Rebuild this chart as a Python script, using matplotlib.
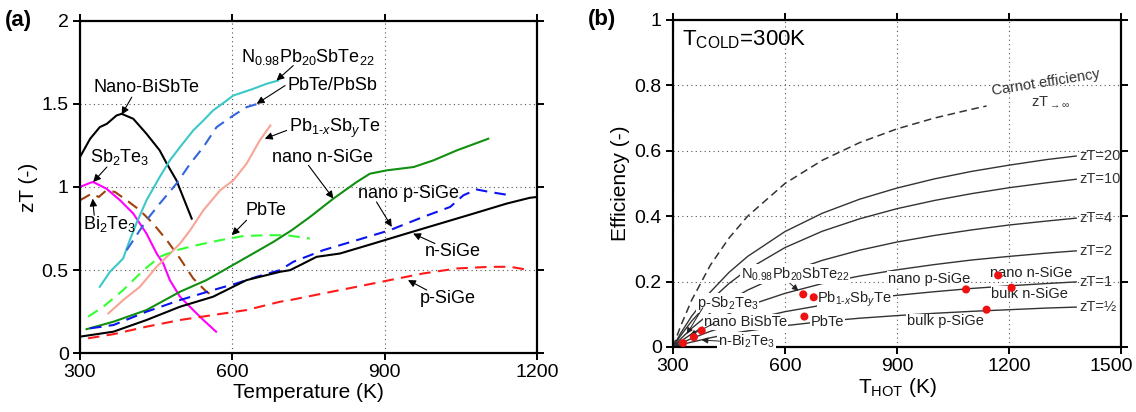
import matplotlib
matplotlib.use("Agg")
import matplotlib.pyplot as plt
from matplotlib.transforms import ScaledTranslation

plt.rcParams['font.family'] = ['Liberation Sans', 'DejaVu Sans']
plt.rcParams['mathtext.fontset'] = 'custom'
plt.rcParams['mathtext.rm'] = 'Liberation Sans'
plt.rcParams['mathtext.it'] = 'Liberation Sans:italic'

# ---- panel (a): zT vs temperature ----
bisbte_T = [300, 320, 339, 353, 372, 382, 405, 431, 457, 471, 490, 503, 520]
bisbte_z = [1.18, 1.29, 1.36, 1.38, 1.43, 1.44, 1.41, 1.32, 1.22, 1.14, 1.04, 0.94, 0.81]

sb2te3_T = [300, 320, 326, 352, 379, 405, 431, 451, 464, 477, 497, 523, 543, 568]
sb2te3_z = [1.0, 1.025, 1.03, 0.99, 0.92, 0.84, 0.72, 0.60, 0.54, 0.44, 0.34, 0.26, 0.20, 0.13]

bi2te3_T = [300, 323, 337, 352, 369, 392, 418, 444, 471, 497, 523, 549, 565]
bi2te3_z = [0.92, 0.96, 0.94, 0.98, 0.97, 0.92, 0.86, 0.78, 0.68, 0.57, 0.45, 0.37, 0.34]

last_T = [339, 359, 385, 398, 411, 431, 457, 477, 497, 523, 543, 562, 589, 602, 641, 667, 690]
last_z = [0.40, 0.49, 0.57, 0.68, 0.78, 0.92, 1.06, 1.16, 1.24, 1.34, 1.40, 1.46, 1.52, 1.55, 1.59, 1.62, 1.64]

pbsb_T = [392, 405, 431, 457, 490, 517, 543, 569, 602, 628, 650]
pbsb_z = [0.62, 0.68, 0.80, 0.90, 1.02, 1.14, 1.24, 1.36, 1.43, 1.48, 1.50]

pbsbte_T = [356, 385, 418, 451, 471, 497, 517, 543, 576, 602, 628, 654, 675]
pbsbte_z = [0.24, 0.32, 0.40, 0.52, 0.58, 0.66, 0.74, 0.86, 0.98, 1.04, 1.14, 1.28, 1.37]

pbte_T = [316, 346, 385, 425, 457, 490, 530, 576, 622, 667, 707, 753]
pbte_z = [0.22, 0.28, 0.38, 0.50, 0.58, 0.62, 0.65, 0.68, 0.705, 0.71, 0.71, 0.69]

nn_T = [313, 366, 431, 497, 549, 595, 641, 681, 717, 753, 799, 845, 871, 904, 957, 996, 1042, 1104]
nn_z = [0.145, 0.19, 0.26, 0.37, 0.44, 0.52, 0.60, 0.67, 0.74, 0.82, 0.93, 1.03, 1.08, 1.10, 1.12, 1.16, 1.22, 1.29]

np_T = [320, 366, 431, 497, 562, 608, 648, 694, 720, 779, 845, 910, 976, 1029, 1055, 1081, 1107, 1147]
np_z = [0.15, 0.17, 0.25, 0.32, 0.38, 0.42, 0.46, 0.50, 0.55, 0.62, 0.68, 0.74, 0.82, 0.88, 0.95, 0.985, 0.97, 0.95]

n_T = [300, 366, 431, 497, 562, 628, 694, 714, 766, 812, 878, 943, 1009, 1075, 1140, 1186, 1200]
n_z = [0.10, 0.13, 0.20, 0.28, 0.34, 0.44, 0.49, 0.50, 0.58, 0.60, 0.66, 0.72, 0.78, 0.84, 0.90, 0.935, 0.94]

p_T = [316, 366, 431, 497, 562, 628, 694, 714, 779, 845, 910, 976, 1042, 1107, 1147, 1186]
p_z = [0.09, 0.115, 0.16, 0.20, 0.23, 0.26, 0.31, 0.32, 0.36, 0.40, 0.44, 0.48, 0.51, 0.52, 0.52, 0.50]

# ---- panel (b): efficiency vs T_hot ----
th = [300, 320, 350, 400, 450, 500, 600, 700, 800, 900, 1000, 1100, 1200, 1300, 1380]
eff_zt20 = [0, 0.041, 0.094, 0.168, 0.228, 0.277, 0.353, 0.409, 0.452, 0.486, 0.514, 0.537, 0.556, 0.573, 0.584]
eff_zt10 = [0, 0.034, 0.079, 0.142, 0.194, 0.237, 0.304, 0.354, 0.392, 0.423, 0.448, 0.469, 0.487, 0.502, 0.513]
eff_zt4 = [0, 0.024, 0.057, 0.104, 0.142, 0.174, 0.226, 0.265, 0.296, 0.321, 0.341, 0.358, 0.373, 0.385, 0.394]
eff_zt2 = [0, 0.017, 0.040, 0.074, 0.102, 0.126, 0.164, 0.194, 0.217, 0.236, 0.252, 0.266, 0.277, 0.287, 0.294]
eff_zt1 = [0, 0.011, 0.026, 0.048, 0.066, 0.082, 0.108, 0.128, 0.145, 0.158, 0.169, 0.179, 0.187, 0.194, 0.199]
eff_zth = [0, 0.0065, 0.015, 0.028, 0.040, 0.049, 0.065, 0.078, 0.088, 0.096, 0.103, 0.109, 0.114, 0.119, 0.122]
zt_names = ["zT=20", "zT=10", "zT=4", "zT=2", "zT=1", "zT=½"]

carnot_T = [300, 320, 350, 400, 450, 500, 600, 700, 800, 900, 1000, 1100, 1140]
carnot_e = [0, 0.0625, 0.143, 0.25, 0.333, 0.4, 0.5, 0.571, 0.625, 0.667, 0.7, 0.727, 0.737]

dot_T = [327, 356, 377, 649, 677, 652, 1171, 1085, 1207, 1140]
dot_e = [0.012, 0.03, 0.05, 0.161, 0.152, 0.093, 0.219, 0.176, 0.181, 0.114]

fig = plt.figure(figsize=(11.36, 4.12), dpi=100)
ax1 = fig.add_axes([0.0704, 0.1425, 0.4023, 0.8073])
ax2 = fig.add_axes([0.5924, 0.1578, 0.3944, 0.7937])

LW = 1.5
DASH = (0, (5.5, 3.5))
ax1.plot(bisbte_T, bisbte_z, color="k", lw=LW)
ax1.plot(sb2te3_T, sb2te3_z, color="#ff00ff", lw=LW)
ax1.plot(bi2te3_T, bi2te3_z, color="#a0400a", lw=LW, ls=DASH)
ax1.plot(last_T, last_z, color="#3cc8c8", lw=LW)
ax1.plot(pbsb_T, pbsb_z, color="#3366dd", lw=LW, ls=DASH)
ax1.plot(pbsbte_T, pbsbte_z, color="#f7a595", lw=LW)
ax1.plot(pbte_T, pbte_z, color="#33ff33", lw=LW, ls=DASH)
ax1.plot(nn_T, nn_z, color="#118f11", lw=LW)
ax1.plot(np_T, np_z, color="#0a14f0", lw=LW, ls=DASH)
ax1.plot(n_T, n_z, color="k", lw=LW)
ax1.plot(p_T, p_z, color="#ff1a1a", lw=LW, ls=DASH)

arr = dict(arrowstyle="-|>", color="k", lw=0.8, mutation_scale=11, shrinkA=0, shrinkB=0)
labels_a = [
    ("Nano-BiSbTe", (431, 1.60), (402, 1.54), (382, 1.435)),
    (r"Sb$_2$Te$_3$", (379, 1.18), (353, 1.12), (326, 1.03)),
    (r"Bi$_2$Te$_3$", (359, 0.78), (328, 0.83), (325, 0.93)),
    (r"N$_{0.98}$Pb$_{20}$SbTe$_{22}$", (749, 1.78), (720, 1.73), (687, 1.64)),
    ("PbTe/PbSb", (798, 1.61), (704, 1.61), (648, 1.50)),
    (r"Pb$_{1\text{-}x}$Sb$_y$Te", (802, 1.35), (707, 1.34), (664, 1.29)),
    ("nano n-SiGe", (778, 1.18), (750, 1.13), (799, 0.93)),
    ("PbTe", (666, 0.86), (628, 0.80), (599, 0.71)),
    ("nano p-SiGe", (946, 0.96), (884, 0.91), (914, 0.76)),
    ("n-SiGe", (1034, 0.61), (999, 0.66), (956, 0.72)),
    ("p-SiGe", (1024, 0.33), (983, 0.38), (946, 0.44)),
]
for txt, pos, a0, a1 in labels_a:
    ax1.text(pos[0], pos[1], txt, ha="center", va="center", fontsize=13)
    ax1.annotate("", xy=a1, xytext=a0, arrowprops=arr)

ax1.set_xlim(300, 1200)
ax1.set_ylim(0, 2)
ax1.set_xticks([300, 600, 900, 1200])
ax1.set_yticks([0, 0.5, 1, 1.5, 2])
ax1.set_yticklabels(["0", "0.5", "1", "1.5", "2"])
ax1.grid(True, ls=(0, (1, 3)), color="#555555", lw=0.8)
ax1.set_xlabel("Temperature (K)", fontsize=15, labelpad=1)
ax1.set_ylabel("zT (-)", fontsize=15, labelpad=3)
ax1.text(-0.165, 1.0, "(a)", transform=ax1.transAxes, fontsize=16, fontweight="bold", va="center")

# ---- panel (b) ----
GREY = "#333333"
ax2.plot(carnot_T, carnot_e, color=GREY, lw=1.1, ls=(0, (5, 3)))
for vals, name in zip([eff_zt20, eff_zt10, eff_zt4, eff_zt2, eff_zt1, eff_zth], zt_names):
    ax2.plot(th, vals, color=GREY, lw=1.0, zorder=2)
    ax2.text(th[-1] + 8, vals[-1], name, fontsize=10.5, va="center", ha="left", color=GREY)

ax2.text(1300, 0.808, "Carnot efficiency", fontsize=10.5, rotation=9, ha="center", va="center", color=GREY)
ax2.text(1310, 0.75, r"zT$_{\rightarrow\infty}$", fontsize=10.5, ha="center", va="center", color=GREY)
ax2.text(325, 0.94, r"T$_{\rm COLD}$=300K", fontsize=16, ha="left", va="center")

box = dict(fc="white", ec="none", pad=0.6)
labels_b = [
    (r"N$_{0.98}$Pb$_{20}$SbTe$_{22}$", (627, 0.223)),
    (r"p-Sb$_2$Te$_3$", (446, 0.135)),
    (r"Pb$_{1\text{-}x}$Sb$_y$Te", (787, 0.146)),
    ("nano BiSbTe", (494, 0.077)),
    ("PbTe", (714, 0.075)),
    (r"n-Bi$_2$Te$_3$", (497, 0.018)),
    ("nano p-SiGe", (985, 0.207)),
    ("nano n-SiGe", (1260, 0.226)),
    ("bulk n-SiGe", (1256, 0.162)),
    ("bulk p-SiGe", (1029, 0.078)),
]
for txt, pos in labels_b:
    ax2.text(pos[0], pos[1], txt, fontsize=10.5, ha="center", va="center", color="#222222",
             bbox=box, zorder=3)

arr_b = dict(arrowstyle="-|>", color="#222222", lw=0.7, mutation_scale=9, shrinkA=0, shrinkB=0)
ax2.annotate("", xy=(636, 0.172), xytext=(613, 0.195), arrowprops=arr_b, zorder=3)
ax2.annotate("", xy=(337, 0.04), xytext=(380, 0.12), arrowprops=arr_b, zorder=3)
ax2.annotate("", xy=(345, 0.035), xytext=(410, 0.072), arrowprops=arr_b, zorder=3)
ax2.annotate("", xy=(377, 0.021), xytext=(425, 0.018), arrowprops=arr_b, zorder=3)

ax2.scatter(dot_T, dot_e, s=34, color="#ee1111", zorder=5, edgecolors="none")

ax2.set_xlim(300, 1500)
ax2.set_ylim(0, 1)
ax2.set_xticks([300, 600, 900, 1200, 1500])
ax2.set_yticks([0, 0.2, 0.4, 0.6, 0.8, 1])
ax2.set_yticklabels(["0", "0.2", "0.4", "0.6", "0.8", "1"])
ax2.grid(True, ls=(0, (1, 3)), color="#555555", lw=0.8)
ax2.set_xlabel(r"T$_{\rm HOT}$ (K)", fontsize=15, labelpad=1)
ax2.set_ylabel("Efficiency (-)", fontsize=15, labelpad=3)
ax2.text(-0.19, 1.0, "(b)", transform=ax2.transAxes, fontsize=16, fontweight="bold", va="center")

for ax in (ax1, ax2):
    for sp in ax.spines.values():
        sp.set_linewidth(1.6)
    ax.tick_params(direction="out", length=5, width=1.4, labelsize=14,
                   top=True, right=True, pad=3)

# keep the last x tick label of (b) inside the figure, as in the original
lab = ax2.get_xticklabels()[-1]
lab.set_transform(lab.get_transform() + ScaledTranslation(-10 / 100, 0, fig.dpi_scale_trans))

fig.savefig("out.png", dpi=100)
